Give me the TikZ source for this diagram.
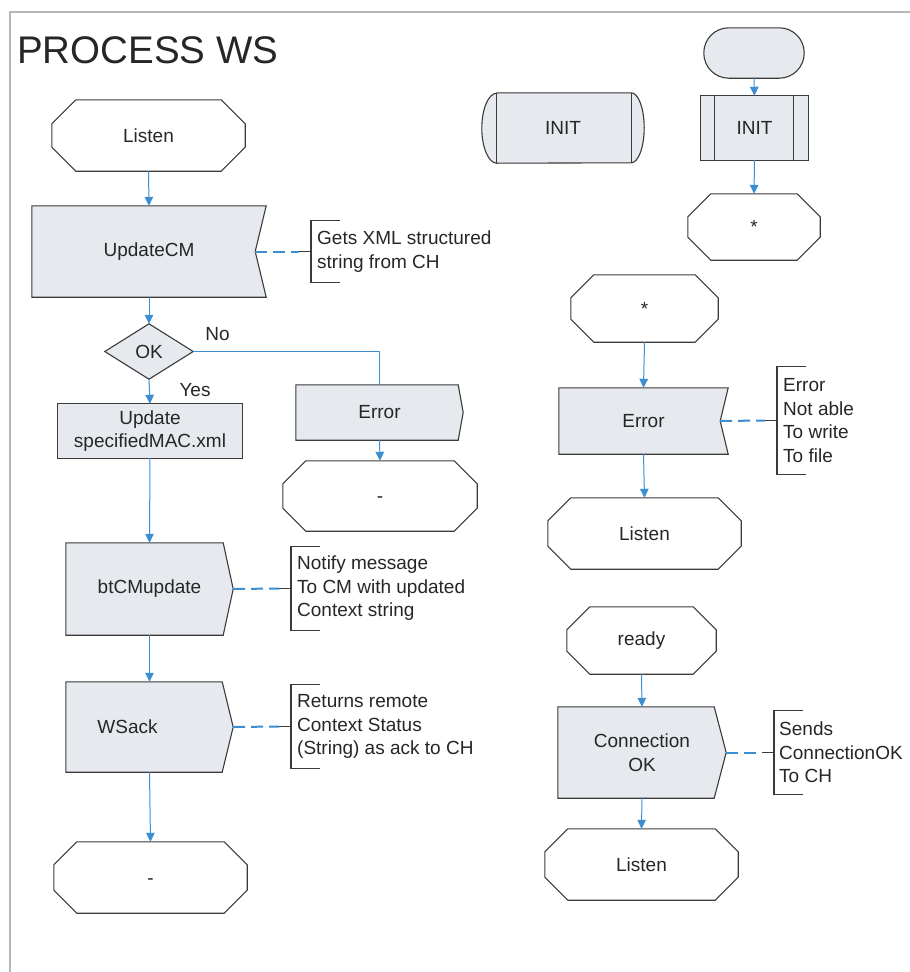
\documentclass[tikz,border=0pt]{standalone}
\usepackage{fontspec}
\setmainfont{Liberation Sans}
\usetikzlibrary{arrows.meta,calc}

\definecolor{framegray}{RGB}{180,184,188}
\definecolor{shapefill}{RGB}{230,233,238}
\definecolor{shapeline}{RGB}{58,58,58}
\definecolor{flowblue}{RGB}{60,142,208}
\definecolor{inkgray}{RGB}{38,38,38}

\pgfdeclarelayer{background}
\pgfsetlayers{background,main}

% Outline helpers: each one traces a flowchart symbol around an existing node
\newcommand\octagonline[2]{% node, chamfer
  \draw[outline] ($(#1.north west)+(#2,0)$) -- ($(#1.north east)+(-#2,0)$)
    -- ($(#1.north east)+(0,-#2)$) -- ($(#1.south east)+(0,#2)$)
    -- ($(#1.south east)+(-#2,0)$) -- ($(#1.south west)+(#2,0)$)
    -- ($(#1.south west)+(0,#2)$) -- ($(#1.north west)+(0,-#2)$) -- cycle;}
\newcommand\notchline[2]{% node, notch depth (inward on the east side)
  \draw[outline,fill=shapefill] (#1.north west) -- (#1.north east)
    -- ($(#1.east)+(-#2,0)$) -- (#1.south east) -- (#1.south west) -- cycle;}
\newcommand\pointline[2]{% node, point depth (outward on the east side)
  \draw[outline,fill=shapefill] (#1.north west) -- ($(#1.north east)+(-#2,0)$)
    -- (#1.east) -- ($(#1.south east)+(-#2,0)$) -- (#1.south west) -- cycle;}
\newcommand\bracketline[1]{%
  \draw[outline] ($(#1.north west)+(29,0)$) -- (#1.north west)
    -- (#1.south west) -- ($(#1.south west)+(29,0)$);}
\newcommand\noteline[2]{% from, to
  \draw[notedash] (#1) -- ($(#2.west)+(-12,0)$);
  \draw[outline] ($(#2.west)+(-12,0)$) -- (#2.west);}

\tikzset{
  x=1pt, y=1pt,
  outline/.style={draw=shapeline, line width=1.1pt, line join=miter},
  box/.style={inner sep=0pt, align=center, text=inkgray,
    font=\fontsize{19}{23.5}\selectfont},
  note/.style={anchor=west, inner xsep=6pt, inner ysep=0pt, align=left,
    text=inkgray, font=\fontsize{19}{23.5}\selectfont},
  flow/.style={draw=flowblue, line width=1pt},
  flowarrow/.style={flow, -{Triangle[width=8.5pt,length=9pt]}},
  notedash/.style={draw=flowblue, line width=2pt, dash pattern=on 12pt off 6pt},
  tag/.style={text=inkgray, font=\fontsize{19}{23.5}\selectfont, inner sep=0pt},
}

\begin{document}
\begin{tikzpicture}
\useasboundingbox (0,0) rectangle (910,-972);

% page frame and title
\draw[draw=framegray, line width=1.6pt] (910,-12) -- (10,-12) -- (10,-972);
\node[anchor=base west, inner sep=0pt, text=inkgray,
  font=\fontsize{38.5}{40}\selectfont] (title) at (17,-63) {PROCESS WS};

% ---------- main branch ----------
\node[box, minimum width=193, minimum height=71] (listenA) at (148.5,-135.5) {Listen};
\node[box, minimum width=234, minimum height=91] (updCM) at (149,-251.5) {UpdateCM};
\node[box, minimum width=88, minimum height=55] (ok) at (149,-351.5) {OK};
\node[box, minimum width=184, minimum height=54] (updXML) at (150,-431) {Update\\specifiedMAC.xml};
\node[box, minimum width=167, minimum height=92] (btcm) at (149.5,-589) {btCMupdate};
\node[box, minimum width=167, minimum height=90] (wsack) at (149.5,-727) {};
\node[box] (wsacklabel) at (127.5,-727) {WSack};
\node[box, minimum width=193, minimum height=71, text height=13.6pt, text depth=0pt] (dashA) at (150.5,-877.5) {-};

% error branch
\node[box, minimum width=167, minimum height=55] (errA) at (379.5,-412.5) {Error};
\node[box, minimum width=194, minimum height=70, text height=13.6pt, text depth=0pt] (dashB) at (380,-496) {-};

\node[tag] (nolabel) at (217.5,-334) {No};
\node[tag] (yeslabel) at (195,-390) {Yes};

% ---------- start / init ----------
\node[box, minimum width=162, minimum height=70] (initA) at (563,-128) {INIT};
\node[box, minimum width=100, minimum height=50] (start) at (754,-53) {};
\node[box, minimum width=107, minimum height=64] (initB) at (754.5,-128) {INIT};
\node[box, minimum width=132, minimum height=66, text height=13.6pt, text depth=0pt] (starA) at (754,-227) {*};

% ---------- any-state error ----------
\node[box, minimum width=147, minimum height=67, text height=13.6pt, text depth=0pt] (starB) at (644.5,-308.5) {*};
\node[box, minimum width=169, minimum height=66] (errB) at (643.5,-421) {Error};
\node[box, minimum width=193, minimum height=71] (listenB) at (644.5,-533.5) {Listen};

% ---------- ready ----------
\node[box, minimum width=149, minimum height=67] (ready) at (641.5,-640.5) {ready};
\node[box, minimum width=168, minimum height=91] (connok) at (642,-752.5) {Connection\\OK};
\node[box, minimum width=193, minimum height=71] (listenC) at (641.5,-864.5) {Listen};

% ---------- comments ----------
\node[note, minimum height=61] (c1) at (311,-251.5) {Gets XML structured\\string from CH};
\node[note, minimum height=83] (c2) at (291,-588.5) {Notify message\\To CM with updated\\Context string};
\node[note, minimum height=83] (c3) at (291,-726.5) {Returns remote\\Context Status\\(String) as ack to CH};
\node[note, minimum height=107] (c4) at (777,-420.5) {Error\\Not able\\To write\\To file};
\node[note, minimum height=83, inner xsep=5pt] (c5) at (774,-752.5) {Sends\\ConnectionOK\\To CH};

% notch tips of the inward-notched boxes
\coordinate (updCMtip) at ($(updCM.east)+(-11,0)$);
\coordinate (errBtip) at ($(errB.east)+(-8,0)$);

% ---------- symbol outlines ----------
\begin{pgfonlayer}{background}
  \octagonline{listenA}{24}
  \notchline{updCM}{11}
  \draw[outline,fill=shapefill] (ok.north) -- (ok.east) -- (ok.south) -- (ok.west) -- cycle;
  \draw[outline,fill=shapefill] (updXML.south west) rectangle (updXML.north east);
  \pointline{btcm}{10}
  \pointline{wsack}{11}
  \octagonline{dashA}{23}
  \pointline{errA}{5}
  \octagonline{dashB}{23}

  % INIT with rounded ends
  \draw[outline,fill=shapefill] ($(initA.north west)+(15,0)$) -- ($(initA.north east)+(-13,0)$)
    arc[start angle=90, end angle=-90, x radius=13, y radius=35]
    -- ($(initA.south west)+(15,0)$)
    arc[start angle=270, end angle=90, x radius=15, y radius=35] -- cycle;
  \draw[outline] ($(initA.north west)+(15,0)$) -- ($(initA.south west)+(15,0)$);
  \draw[outline] ($(initA.north east)+(-13,0)$) -- ($(initA.south east)+(-13,0)$);

  % start terminator and predefined process
  \draw[outline,fill=shapefill,rounded corners=25pt] (start.south west) rectangle (start.north east);
  \draw[outline,fill=shapefill] (initB.south west) rectangle (initB.north east);
  \draw[outline] ($(initB.north west)+(14,0)$) -- ($(initB.south west)+(14,0)$);
  \draw[outline] ($(initB.north east)+(-15,0)$) -- ($(initB.south east)+(-15,0)$);
  \octagonline{starA}{23}

  \octagonline{starB}{23}
  \notchline{errB}{8}
  \octagonline{listenB}{23}

  \octagonline{ready}{23}
  \pointline{connok}{12}
  \octagonline{listenC}{23}

  \bracketline{c1}
  \bracketline{c2}
  \bracketline{c3}
  \bracketline{c4}
  \bracketline{c5}
\end{pgfonlayer}

% ---------- connectors ----------
\draw[flowarrow] (listenA.south) -- (updCM.north);
\draw[flowarrow] (updCM.south) -- (ok.north);
\draw[flowarrow] (ok.south) -- (updXML.north);
\draw[flow] (ok.east) -| (errA.north);
\draw[flowarrow] (updXML.south) -- (btcm.north);
\draw[flowarrow] (btcm.south) -- (wsack.north);
\draw[flowarrow] (wsack.south) -- (dashA.north);
\draw[flowarrow] (errA.south) -- (dashB.north);

\draw[flowarrow] (start.south) -- (initB.north);
\draw[flowarrow] (initB.south) -- (starA.north);
\draw[flowarrow] (starB.south) -- (errB.north);
\draw[flowarrow] (errB.south) -- (listenB.north);
\draw[flowarrow] (ready.south) -- (connok.north);
\draw[flowarrow] (connok.south) -- (listenC.north);

% comment links
\noteline{updCMtip}{c1}
\noteline{btcm.east}{c2}
\noteline{wsack.east}{c3}
\noteline{errBtip}{c4}
\noteline{connok.east}{c5}
\end{tikzpicture}
\end{document}
